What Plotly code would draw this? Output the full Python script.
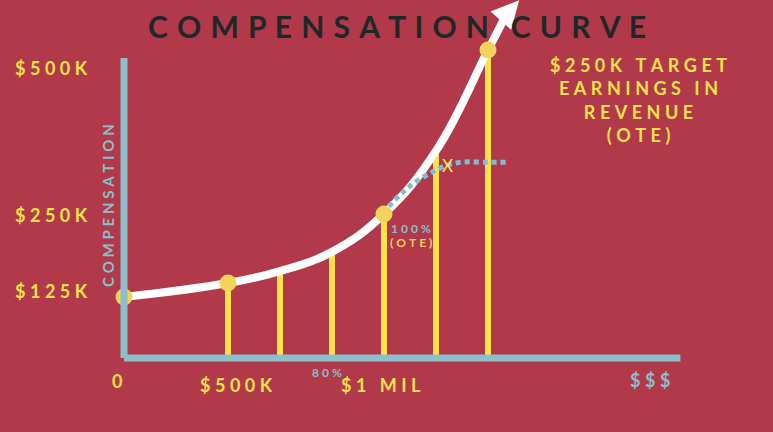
import plotly.graph_objects as go

# quota attainment (% of $1 MIL target) and compensation ($K)
attainment = [0, 40, 60, 80, 100, 120, 140, 147]
compensation = [125, 146, 164, 193, 250, 345, 497, 550]

# vertical payout bars
bar_x = [40, 60, 80, 100, 120, 140]
bar_top = [146, 164, 193, 250, 345, 497]

# highlighted points on the curve
dot_x = [0, 40, 100, 140]
dot_y = [125, 146, 250, 497]

# flat (capped) plan after OTE
capped_x = [100, 102, 110, 118, 124, 130, 140, 147]
capped_y = [250, 262, 292, 312, 323, 328, 328, 328]

y_tick_labels = ["$500K", "$250K", "$125K"]
x_tick_labels = ["0", "$500K", "$1 MIL"]

BG = "#b2394a"
YELLOW = "#fbe24b"
DOT = "#f2d35c"
BLUE = "#8bbfca"
BASE = 33
FONT = "Lato"

fig = go.Figure()

# axis lines
fig.add_shape(type="line", x0=0, x1=214, y0=BASE, y1=BASE, line=dict(color=BLUE, width=7))
fig.add_shape(type="line", x0=0, x1=0, y0=BASE, y1=485, line=dict(color=BLUE, width=7))

fig.add_trace(go.Bar(
    x=bar_x, y=[t - BASE for t in bar_top], base=BASE, width=2.4,
    marker=dict(color=YELLOW, line=dict(width=0)),
))

fig.add_trace(go.Scatter(
    x=attainment, y=compensation, mode="lines",
    line=dict(color="white", width=8, shape="spline", smoothing=1.2),
))

fig.add_trace(go.Scatter(
    x=capped_x, y=capped_y, mode="lines",
    line=dict(color="#7fbcd8", width=5, dash="5px,4px", shape="spline"),
))

fig.add_trace(go.Scatter(
    x=dot_x, y=dot_y, mode="markers",
    marker=dict(color=DOT, size=17), cliponaxis=False,
))

# arrow head at the end of the curve
fig.add_annotation(x=152, y=572, ax=attainment[-1], ay=compensation[-1],
                   xref="x", yref="y", axref="x", ayref="y", text="",
                   showarrow=True, arrowhead=2, arrowsize=1.1, arrowwidth=5,
                   arrowcolor="white")


def spaced(s, gap="\u2009\u2009"):
    return gap.join(s)


def label(text, px, py, size, color, angle=0):
    fig.add_annotation(x=px / 773, y=1 - py / 432, xref="paper", yref="paper",
                       xanchor="center", yanchor="middle", text=text,
                       textangle=angle, showarrow=False, align="center",
                       font=dict(family=FONT, size=size, color=color))


# title
label("<b>" + spaced("COMPENSATION", " \u200a") + "   " + spaced("CURVE", " \u200a") + "</b>",
      397, 26, 30, "#1f2828")

# y tick labels
for lab, py in zip(y_tick_labels, [68, 215, 291]):
    label("<b>" + spaced(lab) + "</b>", 52, py, 18, YELLOW)

# x tick labels
for lab, px, py in zip(x_tick_labels, [117, 237, 381], [381, 385, 385]):
    label("<b>" + spaced(lab) + "</b>", px, py, 18, YELLOW)

label("<b>" + spaced("$$$") + "</b>", 650, 380, 18, BLUE)
label("<b>" + spaced("80%") + "</b>", 327, 372, 12, BLUE)
label("<b>" + spaced("COMPENSATION") + "</b>", 108, 206, 15, BLUE, angle=-90)
label("<b>" + spaced("100%") + "</b>", 411, 228, 12, BLUE)
label("<b>" + spaced("(OTE)") + "</b>", 411, 242, 12, DOT)
label("X", 447, 165, 17, YELLOW)

label("<br>".join("<b>" + spaced(t) + "</b>" for t in
                  ["$250K TARGET", "EARNINGS IN", "REVENUE", "(OTE)"]),
      638, 100, 18, YELLOW)

fig.update_layout(
    width=773, height=432,
    margin=dict(l=0, r=0, t=0, b=0),
    paper_bgcolor=BG, plot_bgcolor=BG,
    showlegend=False, bargap=0,
    xaxis=dict(range=[-124 / 2.6, (773 - 124) / 2.6], visible=False, fixedrange=True),
    yaxis=dict(range=[(380 - 432) / 0.664, 380 / 0.664], visible=False, fixedrange=True),
)

fig.write_html("out.html", config={"displayModeBar": False},
               post_script="document.body.style.margin='0';")
